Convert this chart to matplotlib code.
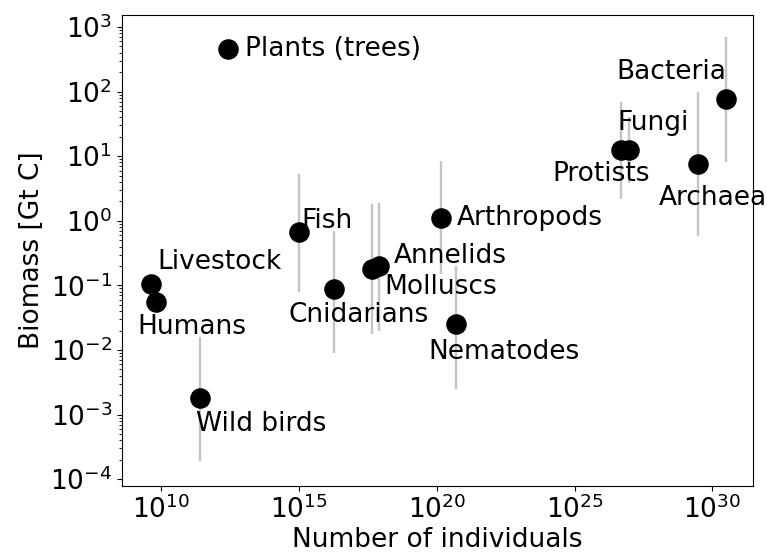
import matplotlib
matplotlib.use("Agg")
import matplotlib.pyplot as plt
from matplotlib.ticker import NullLocator, FixedLocator

names = ['Plants (trees)', 'Livestock', 'Humans', 'Wild birds', 'Fish',
         'Cnidarians', 'Molluscs', 'Annelids', 'Arthropods', 'Nematodes',
         'Protists', 'Fungi', 'Archaea', 'Bacteria']
individuals = [2.75e12, 4.4e9, 6.6e9, 2.6e11, 1.05e15,
               1.95e16, 4.7e17, 7.8e17, 1.4e20, 4.9e20,
               4.9e26, 9.5e26, 3.1e29, 3.2e30]
biomass = [450, 0.107, 0.055, 0.0018, 0.66,
           0.087, 0.18, 0.2, 1.1, 0.025,
           12.5, 12.5, 7.7, 76]
biomass_low = [450, 0.107, 0.055, 0.00019, 0.08,
               0.009, 0.018, 0.0195, 0.15, 0.0025,
               2.2, 3.8, 0.59, 8.1]
biomass_high = [450, 0.107, 0.055, 0.016, 5.3,
                0.7, 1.8, 1.9, 8.4, 0.2,
                68, 40, 100, 700]

x_ticks = [1e10, 1e15, 1e20, 1e25, 1e30]
y_ticks = [1e-4, 1e-3, 1e-2, 1e-1, 1e0, 1e1, 1e2, 1e3]

# label offsets (pixels) relative to each point
label_dx = [17, 6, -19, -4, 2, -46, 12, 15, 16, -27, -69, -12, -40, -110]
label_dy = [0, 22, -25, -26, 11, -26, -18, 10, 0, -28, -24, 27, -34, 27]

fig = plt.figure(figsize=(7.67, 5.55), dpi=100)
ax = fig.add_axes([0.159, 0.124, 0.823, 0.849])

yerr = [[b - lo for b, lo in zip(biomass, biomass_low)],
        [hi - b for b, hi in zip(biomass, biomass_high)]]
ax.errorbar(individuals, biomass, yerr=yerr, fmt='none', ecolor='#c4c4c4',
            elinewidth=1.7, capsize=0, zorder=1)
ax.plot(individuals, biomass, 'o', color='black', markersize=13.8, zorder=2)

for n, x, y, dx, dy in zip(names, individuals, biomass, label_dx, label_dy):
    ax.annotate(n, (x, y), xytext=(dx, dy), textcoords='offset pixels',
                ha='left', va='center', fontsize=19, zorder=3)

ax.set_xscale('log')
ax.set_yscale('log')
ax.set_xlim(10**8.585, 10**31.48)
ax.set_ylim(10**-4.108, 10**3.186)
ax.xaxis.set_major_locator(FixedLocator(x_ticks))
ax.xaxis.set_minor_locator(NullLocator())
ax.yaxis.set_major_locator(FixedLocator(y_ticks))
minor_y = [m * t for t in y_ticks[:-1] for m in range(2, 10)]
ax.yaxis.set_minor_locator(FixedLocator(minor_y))
ax.tick_params(axis='both', which='major', labelsize=19)

ax.set_xlabel('Number of individuals', fontsize=19, labelpad=2)
ax.set_ylabel('Biomass [Gt C]', fontsize=19)

fig.savefig('out.png', dpi=100)
